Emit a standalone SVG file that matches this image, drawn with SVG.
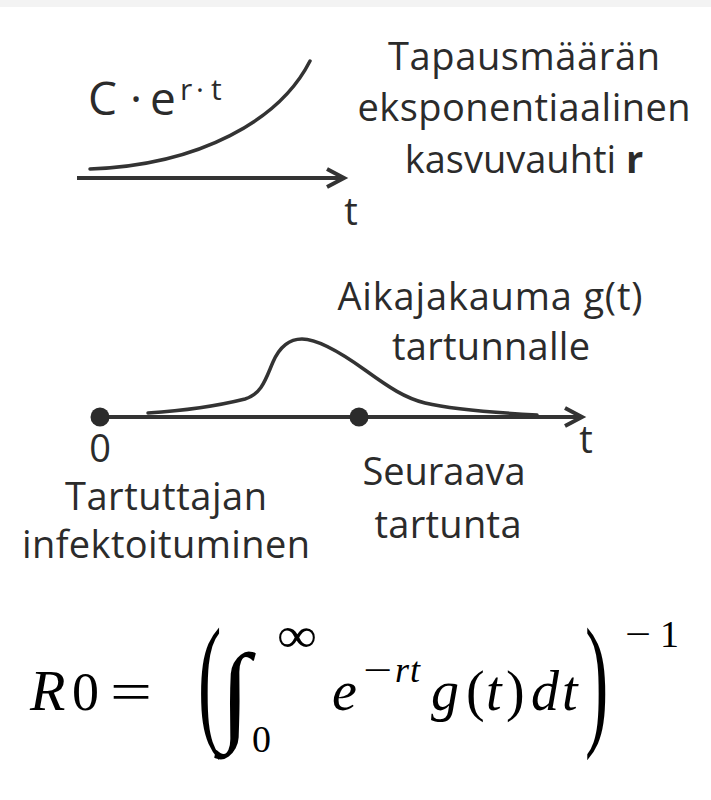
<svg xmlns="http://www.w3.org/2000/svg" width="711" height="800" viewBox="0 0 711 800">
  <style>
    .lbl { font-family: "Open Sans", "Noto Sans", sans-serif; fill: #2b2b2b; font-size: 38px; }
    .mid { text-anchor: middle; }
    .line { fill: none; stroke: #333; stroke-width: 4; stroke-linecap: butt; }
    .curve { fill: none; stroke: #333; stroke-width: 3.5; stroke-linecap: round; }
    .head { fill: none; stroke: #333; stroke-width: 4; stroke-linejoin: miter; }
    .dot { fill: #2b2b2b; }
    .math { font-family: "Liberation Serif", "Times New Roman", serif; fill: #000; }
    .it { font-style: italic; }
  </style>
  <rect x="0" y="0" width="711" height="800" fill="#ffffff"/>
  <rect x="0" y="0" width="711" height="7" fill="#f3f3f3"/>

  <g id="connectors">
    <line class="line" x1="77" y1="178" x2="343" y2="178"/>
    <polyline class="head" points="327,169 344,178 327,187"/>
    <line class="line" x1="100" y1="417" x2="581" y2="417"/>
    <polyline class="head" points="565,408 582,417 565,426"/>
  </g>

  <g id="growth">
    <path class="curve" d="M90,169 C200,165 280,120 310,61"/>
    <text class="lbl" y="115"><tspan x="88" font-size="46">C</tspan><tspan x="130" font-size="46">·</tspan><tspan x="150" font-size="46">e</tspan><tspan x="180" y="100" font-size="30">r</tspan><tspan x="196" y="100" font-size="30">·</tspan><tspan x="211" y="100" font-size="30">t</tspan></text>
    <text class="lbl mid" x="351" y="225">t</text>
  </g>

  <g id="growth-label">
    <text class="lbl mid" x="524" y="70" textLength="272">Tapausmäärän</text>
    <text class="lbl mid" x="524" y="121" textLength="333">eksponentiaalinen</text>
    <text class="lbl mid" x="524" y="173">kasvuvauhti <tspan font-weight="bold">r</tspan></text>
  </g>

  <g id="distribution">
    <path class="curve" d="M148,413 C195,410 225,404 245,399 C262,394 266,378 273,362 C280,346 290,339 302,339 C318,339 340,352 365,370 C390,388 405,398 425,403 C455,410 500,413 537,415"/>
    <text class="lbl mid" x="490" y="310" textLength="305">Aikajakauma g(t)</text>
    <text class="lbl mid" x="491" y="360" textLength="198">tartunnalle</text>
    <text class="lbl mid" x="586" y="453">t</text>
  </g>

  <g id="origin">
    <circle class="dot" cx="100" cy="417" r="9.5"/>
    <text class="lbl mid" x="100" y="462">0</text>
    <text class="lbl mid" x="166" y="510" textLength="202">Tartuttajan</text>
    <text class="lbl mid" x="166" y="558" textLength="288">infektoituminen</text>
  </g>

  <g id="next-infection">
    <circle class="dot" cx="359" cy="417" r="9.5"/>
    <text class="lbl mid" x="444" y="485" textLength="163">Seuraava</text>
    <text class="lbl mid" x="448" y="538" textLength="147">tartunta</text>
  </g>

  <g id="formula">
    <text class="math it" x="30" y="710" font-size="58">R</text>
    <text class="math" x="72" y="710" font-size="54">0</text>
    <text class="math" x="110" y="710" font-size="54" textLength="42" lengthAdjust="spacingAndGlyphs">=</text>
    <text class="math" font-size="70" transform="translate(198,729) scale(1,2.1)">(</text>
    <text class="math" x="220" y="730" font-size="110">∫</text>
    <text class="math" x="277" y="652" font-size="50" textLength="40" lengthAdjust="spacingAndGlyphs">∞</text>
    <text class="math" x="252" y="752" font-size="38">0</text>
    <text class="math it" x="332" y="710" font-size="56">e</text>
    <text class="math" y="682" font-size="36"><tspan x="363" textLength="29" lengthAdjust="spacingAndGlyphs">−</tspan><tspan class="it" x="395">r</tspan><tspan class="it" x="410">t</tspan></text>
    <text class="math it" y="710" font-size="56"><tspan x="431">g</tspan><tspan x="466" font-style="normal">(</tspan><tspan x="486">t</tspan><tspan x="506" font-style="normal">)</tspan><tspan x="531">d</tspan><tspan x="562">t</tspan></text>
    <text class="math" font-size="70" transform="translate(585,729) scale(1,2.1)">)</text>
    <text class="math" y="647" font-size="38"><tspan x="625" textLength="26" lengthAdjust="spacingAndGlyphs">−</tspan><tspan x="660">1</tspan></text>
  </g>
</svg>
